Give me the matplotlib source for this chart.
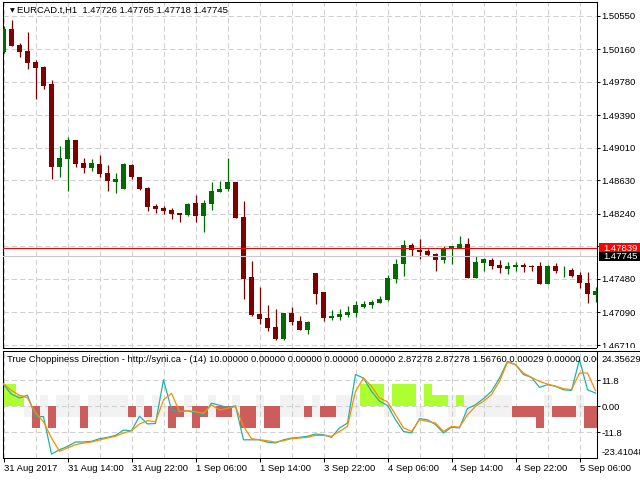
import numpy as np
import matplotlib
matplotlib.use("Agg")
import matplotlib.pyplot as plt
import matplotlib.transforms as mtransforms
from matplotlib.patches import Rectangle
from matplotlib.lines import Line2D

plt.rcParams["font.family"] = ["Liberation Sans", "DejaVu Sans"]
plt.rcParams["font.size"] = 6.8

# EURCAD H1 candles
opens = [1.50123, 1.50395, 1.50208, 1.50138, 1.50010, 1.49952, 1.49753, 1.48789, 1.48879, 1.49101,
         1.48832, 1.48778, 1.48821, 1.48719, 1.48614, 1.48533, 1.48809, 1.48669, 1.48544, 1.48331,
         1.48311, 1.48284, 1.48253, 1.48230, 1.48369, 1.48218, 1.48358, 1.48498, 1.48533, 1.48614,
         1.48206, 1.47506, 1.47075, 1.47028, 1.46923, 1.46783, 1.47087, 1.46993, 1.46888, 1.47553,
         1.47328, 1.47028, 1.47040, 1.47063, 1.47087, 1.47157, 1.47180, 1.47203, 1.47238, 1.47483,
         1.47658, 1.47880, 1.47821, 1.47810, 1.47775, 1.47705, 1.47833, 1.47845, 1.47891, 1.47495,
         1.47670, 1.47705, 1.47646, 1.47600, 1.47623, 1.47646, 1.47635, 1.47635, 1.47425, 1.47635,
         1.47581, 1.47588, 1.47530, 1.47436, 1.47297]
highs = [1.50430, 1.50500, 1.50235, 1.50360, 1.50033, 1.49963, 1.49800, 1.49031, 1.49139, 1.49101,
         1.48891, 1.48882, 1.48926, 1.48809, 1.48712, 1.48829, 1.48817, 1.48673, 1.48556, 1.48358,
         1.48331, 1.48311, 1.48253, 1.48369, 1.48463, 1.48404, 1.48614, 1.48626, 1.48891, 1.48614,
         1.48393, 1.47693, 1.47390, 1.47180, 1.47133, 1.47087, 1.47157, 1.47052, 1.46993, 1.47553,
         1.47328, 1.47122, 1.47133, 1.47168, 1.47227, 1.47227, 1.47238, 1.47285, 1.47530, 1.47716,
         1.47938, 1.47903, 1.47950, 1.47833, 1.47786, 1.47868, 1.47868, 1.47985, 1.47961, 1.47751,
         1.47728, 1.47728, 1.47705, 1.47681, 1.47681, 1.47670, 1.47646, 1.47681, 1.47646, 1.47670,
         1.47635, 1.47611, 1.47565, 1.47565, 1.47390]
lows = [1.50115, 1.50197, 1.50072, 1.49928, 1.49579, 1.49695, 1.48646, 1.48673, 1.48509, 1.48789,
        1.48712, 1.48739, 1.48673, 1.48509, 1.48486, 1.48529, 1.48646, 1.48521, 1.48276, 1.48253,
        1.48241, 1.48183, 1.48148, 1.48218, 1.48148, 1.48031, 1.48288, 1.48498, 1.48509, 1.48194,
        1.47250, 1.47052, 1.46958, 1.46877, 1.46772, 1.46772, 1.46947, 1.46888, 1.46842, 1.47192,
        1.46993, 1.47005, 1.47005, 1.47040, 1.47040, 1.47145, 1.47145, 1.47203, 1.47227, 1.47436,
        1.47518, 1.47751, 1.47716, 1.47751, 1.47576, 1.47670, 1.47658, 1.47845, 1.47495, 1.47495,
        1.47576, 1.47600, 1.47553, 1.47541, 1.47576, 1.47565, 1.47576, 1.47425, 1.47425, 1.47553,
        1.47506, 1.47506, 1.47378, 1.47203, 1.47215]
closes = [1.50395, 1.50200, 1.50130, 1.50002, 1.49944, 1.49730, 1.48789, 1.48891, 1.49101, 1.48821,
          1.48778, 1.48832, 1.48704, 1.48626, 1.48646, 1.48821, 1.48665, 1.48533, 1.48323, 1.48296,
          1.48276, 1.48241, 1.48230, 1.48358, 1.48218, 1.48369, 1.48509, 1.48533, 1.48614, 1.48194,
          1.47483, 1.47063, 1.47017, 1.46912, 1.46783, 1.47087, 1.46982, 1.46888, 1.46982, 1.47308,
          1.47028, 1.47052, 1.47075, 1.47098, 1.47180, 1.47192, 1.47215, 1.47250, 1.47495, 1.47658,
          1.47880, 1.47821, 1.47798, 1.47763, 1.47705, 1.47845, 1.47868, 1.47891, 1.47495, 1.47681,
          1.47716, 1.47635, 1.47611, 1.47635, 1.47646, 1.47623, 1.47623, 1.47425, 1.47635, 1.47576,
          1.47588, 1.47518, 1.47436, 1.47308, 1.47343]

time_labels = ["31 Aug 2017", "31 Aug 14:00", "31 Aug 22:00", "1 Sep 06:00", "1 Sep 14:00",
               "3 Sep 22:00", "4 Sep 06:00", "4 Sep 14:00", "4 Sep 22:00", "5 Sep 06:00"]
label_bars = [0, 8, 16, 24, 32, 40, 48, 56, 64, 72]

price_ticks = [1.50550, 1.50160, 1.49780, 1.49390, 1.49010, 1.48630, 1.48240, 1.47860,
               1.47480, 1.47090, 1.46710]
price_tick_labels = ["1.50550", "1.50160", "1.49780", "1.49390", "1.49010", "1.48630", "1.48240", "",
                     "1.47480", "1.47090", "1.46710"]
ask_price = 1.47839
bid_price = 1.47745
header = "EURCAD.t,H1  1.47726 1.47765 1.47718 1.47745"

# True Choppiness Direction indicator
ind_title = ("True Choppiness Direction - http://syni.ca - (14) 10.00000 0.00000 0.00000 0.00000 "
             "0.00000 2.87278 2.87278 1.56760 0.00029 0.00000 0.00000")
teal_line = [9.8, 5.5, 3.8, 5.0, -4.7, -4.7, -21.7, -19.7, -18.2, -16.2,
             -16.2, -15.9, -14.7, -14.1, -13.2, -10.8, -11.1, -4.5, -8.0, -7.8,
             12.0, -1.5, -2.5, -2.0, -3.0, -4.0, 1.4, 0.5, -0.6, 0.2,
             -15.2, -15.2, -15.2, -16.3, -16.6, -15.2, -14.4, -14.1, -13.6, -12.6,
             -12.9, -14.1, -9.8, -7.6, 14.4, 12.8, 6.8, 2.3, 0.4, -6.1,
             -11.4, -12.1, -5.6, -6.1, -8.3, -12.1, -9.5, -9.8, -1.0, 0.7,
             3.5, 6.8, 12.8, 20.4, 18.9, 14.4, 13.1, 8.6, 9.8, 9.1,
             7.5, 7.2, 21.2, 7.5, 6.0]
orange_line = [10.2, 7.2, 5.0, 3.8, -3.0, -7.0, -14.4, -20.4, -18.9, -17.4,
               -16.7, -16.2, -15.3, -14.4, -13.6, -12.1, -11.1, -8.0, -6.5, -7.0,
               2.9, 5.9, -2.4, -2.0, -2.4, -3.2, 0.6, -1.7, -0.9, -0.2,
               -9.1, -14.7, -15.2, -15.6, -16.3, -15.6, -14.7, -14.4, -14.1, -13.2,
               -13.2, -13.6, -11.4, -9.1, 6.8, 12.8, 9.1, 3.8, 2.0, -3.8,
               -9.8, -11.4, -6.1, -6.8, -7.6, -11.4, -9.1, -9.5, -3.8, 0.0,
               2.3, 5.3, 11.3, 20.0, 18.9, 15.1, 13.1, 11.3, 10.1, 9.1,
               8.0, 7.5, 15.1, 15.1, 7.1]
hist_up = [10, 10, 5, 0, 0, 0, 0, 0, 0, 0,
           0, 0, 0, 0, 0, 0, 0, 0, 0, 0,
           0, 0, 0, 0, 0, 0, 0, 0, 0, 0,
           0, 0, 0, 0, 0, 0, 0, 0, 0, 0,
           0, 0, 0, 0, 0, 10, 10, 10, 0, 10,
           10, 10, 0, 10, 5, 5, 0, 5, 0, 0,
           0, 0, 0, 0, 0, 0, 0, 0, 0, 0,
           0, 0, 0, 0, 0]
hist_dn = [0, 0, 0, 0, -10, 0, -10, 0, 0, 0,
           -10, 0, 0, 0, 0, 0, -5, 0, -5, 0,
           0, -10, -5, 0, -10, -5, 0, -5, -5, 0,
           -10, -10, 0, -10, -10, 0, 0, 0, -5, 0,
           -5, -5, 0, 0, 0, 0, 0, 0, 0, 0,
           0, 0, 0, 0, 0, 0, 0, 0, 0, 0,
           0, 0, 0, 0, -5, -5, -5, -10, 0, -5,
           -5, -5, 0, -10, -10]
flat_up = [0, 0, 0, 0, 0, 5, 0, 5, 5, 5,
           0, 5, 5, 5, 5, 5, 0, 5, 0, 5,
           0, 0, 0, 5, 0, 0, 5, 0, 0, 5,
           0, 0, 5, 0, 0, 5, 5, 5, 0, 5,
           0, 0, 5, 5, 5, 0, 0, 0, 0, 0,
           0, 0, 0, 0, 0, 0, 5, 0, 5, 5,
           5, 5, 5, 5, 0, 0, 0, 0, 5, 0,
           0, 0, 5, 0, 0]
flat_dn = [0, 0, 0, -5, 0, -5, 0, -5, -5, -5,
           0, -5, -5, -5, -5, -5, 0, -5, 0, -5,
           -5, 0, 0, -5, 0, 0, -5, 0, 0, -5,
           0, 0, -5, 0, 0, -5, -5, -5, 0, -5,
           0, 0, -5, -5, -5, 0, 0, 0, -5, 0,
           0, 0, -5, 0, 0, 0, -5, 0, -5, -5,
           -5, -5, -5, -5, 0, 0, 0, 0, -5, 0,
           0, 0, -5, 0, 0]
ind_ticks = [11.8, 0.0, -11.8]
ind_tick_labels = ["11.8", "0.00", "-11.8"]
ind_max = 24.35629
ind_min = -23.41048

W, H = 640, 480


def box(x0, y0, x1, y1):
    # pixel box (top-left origin) -> figure fraction
    return [x0 / W, 1 - y1 / H, (x1 - x0) / W, (y1 - y0) / H]


fig = plt.figure(figsize=(6.4, 4.8), dpi=100)
ax = fig.add_axes(box(2.5, 2, 596.7, 347.5))
ax2 = fig.add_axes(box(2.5, 350.7, 596.7, 458))

x = np.arange(len(opens))
o = np.array(opens)
c = np.array(closes)
bull = c >= o
cols = np.where(bull, "#006b00", "#800000")
grid_c = "#d0d0d0"
dash = (0, (5, 3))

# ---- main chart ----
ax.set_xlim(-0.125, 74.15)
ax.set_ylim(1.46681, 1.50710)
for xv in range(0, len(opens), 4):
    ax.axvline(xv, color=grid_c, lw=0.75, ls=dash, zorder=1)
for pv in price_ticks:
    ax.axhline(pv, color=grid_c, lw=0.75, ls=dash, zorder=1)

ax.vlines(x, lows, highs, colors=cols, lw=0.9, zorder=2)
ax.bar(x, np.maximum(np.abs(c - o), 0.00005), bottom=np.minimum(o, c), width=0.62,
       color=cols, linewidth=0, zorder=3)

ax.axhline(bid_price, color="#c8c8c8", lw=0.8, zorder=4)
ax.axhline(ask_price, color="#ff0000", lw=0.8, zorder=4)

ax.yaxis.tick_right()
ax.set_yticks(price_ticks)
ax.set_yticklabels(price_tick_labels)
ax.tick_params(axis="y", length=2.2, width=0.75, pad=1.3, labelsize=6.8)
ax.tick_params(axis="x", bottom=False, labelbottom=False)
for s in ax.spines.values():
    s.set_linewidth(0.75)

ax.text(7 / 594.2, 0.975, "\u25bc", transform=ax.transAxes, fontsize=4.5,
        family="DejaVu Sans", va="center", ha="left")
ax.text(0.0245, 0.975, header, transform=ax.transAxes, va="center", ha="left")

# price labels at right edge
ypx = (1.50710 - 1.46681) / 345.5
trans = mtransforms.blended_transform_factory(ax.transAxes, ax.transData)
bx0 = (599 - 2.5) / 594.2
bw = (640 - 599) / 594.2
for pv, fc, z in [(ask_price, "#ff0000", 6), (bid_price, "#000000", 7)]:
    ax.add_patch(Rectangle((bx0, pv - 4.75 * ypx), bw, 9.5 * ypx, transform=trans,
                           facecolor=fc, edgecolor="none", clip_on=False, zorder=z))
    ax.text((603.5 - 2.5) / 594.2, pv, f"{pv:.5f}", transform=trans, color="white",
            va="center", ha="left", clip_on=False, zorder=z)

# ---- indicator ----
ax2.set_xlim(-0.125, 74.15)
ax2.set_ylim(-23.46, 25.23)
ax2.bar(x, flat_up, width=1.0, color="#f2f2f2", linewidth=0, antialiased=False, zorder=1)
ax2.bar(x, flat_dn, width=1.0, color="#f2f2f2", linewidth=0, antialiased=False, zorder=1)
for xv in range(0, len(opens), 4):
    ax2.axvline(xv, color=grid_c, lw=0.75, ls=dash, zorder=1.5)
for yv in ind_ticks:
    ax2.axhline(yv, color=grid_c, lw=0.75, ls=dash, zorder=1.5)
ax2.bar(x, hist_up, width=1.0, color="#adff2f", linewidth=0, antialiased=False, zorder=2)
ax2.bar(x, hist_dn, width=1.0, color="#cd5c5c", linewidth=0, antialiased=False, zorder=2)
ax2.plot(x, teal_line, color="#20b2aa", lw=0.9, zorder=3)
ax2.plot(x, orange_line, color="#ff8c00", lw=0.9, zorder=3)

ax2.yaxis.tick_right()
ax2.set_yticks(ind_ticks)
ax2.set_yticklabels(ind_tick_labels)
ax2.tick_params(axis="y", length=2.2, width=0.75, pad=1.3, labelsize=6.8)
ax2.set_xticks(label_bars)
ax2.set_xticklabels(time_labels, ha="left")
ax2.tick_params(axis="x", length=2.9, width=0.75, pad=1.5, labelsize=6.8)
for s in ax2.spines.values():
    s.set_linewidth(0.75)

ax2.text((601.7 - 2.5) / 594.2, 0.922, f"{ind_max:.5f}", transform=ax2.transAxes,
         va="center", ha="left", clip_on=False)
ax2.text((601.7 - 2.5) / 594.2, 0.053, f"{ind_min:.5f}", transform=ax2.transAxes,
         va="center", ha="left", clip_on=False)
t = ax2.text(0.008, 0.916, ind_title, transform=ax2.transAxes, va="center", ha="left",
             clip_on=True)
t.set_clip_path(ax2.patch)

# gap between windows on the price scale
fig.add_artist(Rectangle((596.7 / W, 1 - 350.7 / H), (W - 596.7) / W, 3.2 / H,
                         transform=fig.transFigure, facecolor="white", edgecolor="none",
                         zorder=5))
fig.add_artist(Line2D([596.7 / W, 1.0], [1 - 350.7 / H] * 2, transform=fig.transFigure,
                      color="black", lw=0.75, zorder=6))

fig.savefig("out.png", dpi=100, facecolor="white")
